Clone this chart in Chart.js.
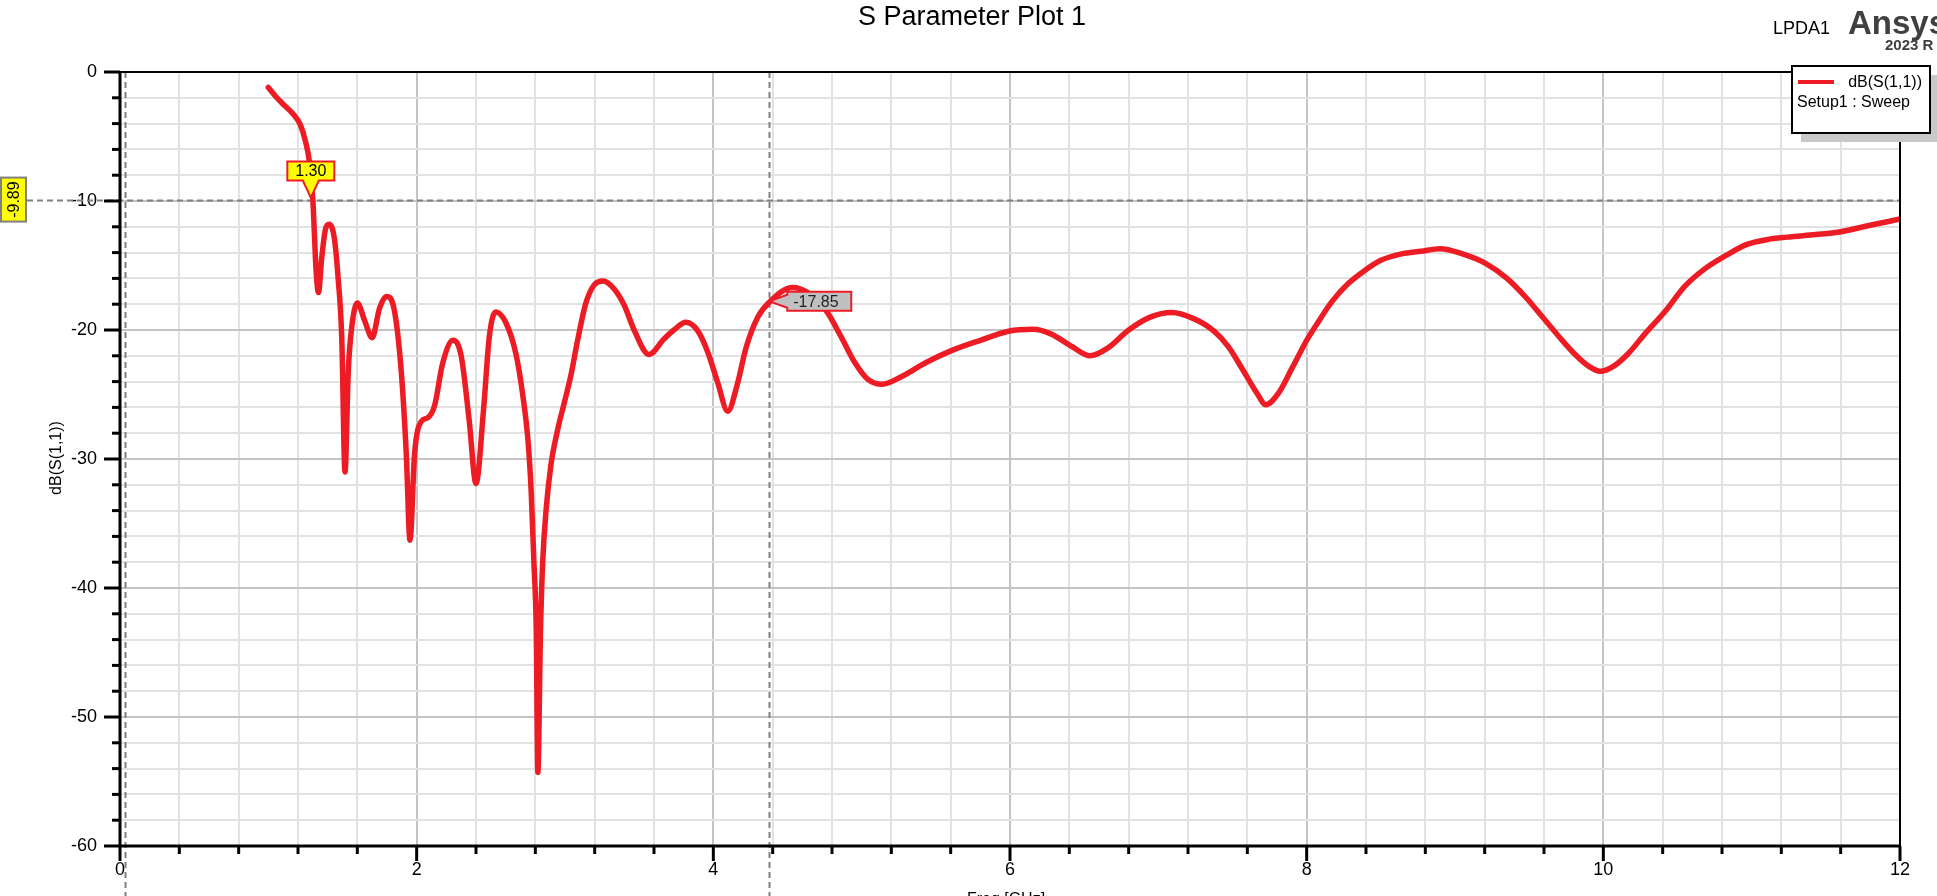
<!DOCTYPE html>
<html>
<head>
<meta charset="utf-8">
<script src="https://cdn.jsdelivr.net/npm/chart.js@4.4.0/dist/chart.umd.min.js"></script>
<style>
  html, body { margin: 0; padding: 0; background: #ffffff; }
  #wrap { width: 1937px; height: 896px; position: relative; overflow: hidden; }
</style>
</head>
<body>
<div id="wrap"><canvas id="c" width="1937" height="896"></canvas></div>
<script>
// ---------- data ----------
const freqGHz = [
  1.00, 1.05, 1.10, 1.17, 1.216, 1.25, 1.276, 1.30, 1.31, 1.322, 1.338, 1.36, 1.385, 1.41, 1.445, 1.47,
  1.495, 1.517, 1.539, 1.562, 1.60, 1.65, 1.70, 1.75, 1.796, 1.85, 1.896, 1.93, 1.955, 1.986, 2.03,
  2.075, 2.12, 2.175, 2.245, 2.30, 2.354, 2.40, 2.452, 2.49, 2.533, 2.60, 2.67, 2.716, 2.75, 2.772,
  2.79, 2.806, 2.817, 2.835, 2.85, 2.873, 2.906, 2.951, 2.996, 3.04, 3.085, 3.141, 3.197, 3.258,
  3.33, 3.40, 3.466, 3.566, 3.667, 3.734, 3.815, 3.894, 3.962, 4.03, 4.097, 4.164, 4.22, 4.30,
  4.377, 4.535, 4.636, 4.766, 4.86, 4.958, 5.04, 5.138, 5.27, 5.437, 5.605, 5.80, 5.99, 6.156,
  6.275, 6.42, 6.539, 6.659, 6.80, 6.946, 7.09, 7.234, 7.377, 7.473, 7.57, 7.665, 7.725, 7.81,
  7.904, 8.00, 8.06, 8.17, 8.28, 8.39, 8.50, 8.64, 8.77, 8.90, 9.05, 9.20, 9.35, 9.48, 9.59,
  9.70, 9.81, 9.90, 9.98, 10.07, 10.17, 10.28, 10.42, 10.55, 10.69, 10.83, 10.96, 11.10, 11.24,
  11.43, 11.59, 11.79, 12.00
];
const s11dB = [
  -1.2, -1.9, -2.5, -3.3, -4.1, -5.35, -6.9, -9.89, -12.4, -15.4, -17.1, -14.4, -12.2, -11.8, -12.9, -15.9,
  -20.6, -31.0, -23.2, -19.8, -17.9, -19.3, -20.6, -18.3, -17.4, -18.5, -23.2, -29.6, -36.3, -29.6, -27.1,
  -26.8, -25.9, -22.6, -20.8, -22.0, -27.0, -31.9, -26.0, -20.5, -18.6, -19.4, -21.9, -25.1, -28.5, -32.5,
  -37.9, -43.2, -54.3, -43.2, -37.9, -33.9, -30.4, -27.7, -25.6, -23.5, -20.8, -17.9, -16.5, -16.2,
  -16.8, -18.1, -20.0, -21.9, -20.7, -20.0, -19.4, -20.05, -21.7, -24.1, -26.3, -24.1, -21.4, -19.0,
  -17.85, -16.7, -17.1, -18.6, -20.5, -22.6, -23.8, -24.2, -23.6, -22.5, -21.6, -20.8, -20.1, -19.95,
  -20.3, -21.3, -22.0, -21.4, -20.0, -19.0, -18.65, -19.1, -20.1, -21.3, -23.1, -24.9, -25.8, -24.9,
  -22.9, -20.8, -19.7, -17.8, -16.4, -15.4, -14.6, -14.1, -13.9, -13.7, -14.1, -14.8, -16.0, -17.5, -19.0,
  -20.5, -21.9, -22.8, -23.2, -22.8, -21.8, -20.3, -18.5, -16.6, -15.2, -14.2, -13.4, -13.0, -12.8,
  -12.6, -12.4, -11.9, -11.4
];
const xMajorTicks = [0, 2, 4, 6, 8, 10, 12];
const yMajorTicks = [0, -10, -20, -30, -40, -50, -60];
const seriesName = 'dB(S(1,1))';
const seriesSetup = 'Setup1 : Sweep';
// markers
const markerXFreq = [1.30];
const markerXdB = [-9.89];
const markerXText = ['1.30'];
const markerYText = ['-9.89'];
const cursorFreq = [0.035, 4.377];
const markerPFreq = [4.377];
const markerPdB = [-17.85];
const markerPText = ['-17.85'];

const FONT = "'Liberation Sans', Arial, Helvetica, sans-serif";
const RED = 'rgb(237,28,36)';

function isMult(v, m) { return Math.abs(v / m - Math.round(v / m)) < 1e-6; }
function isMajorX(v) { return xMajorTicks.some(t => Math.abs(t - v) < 1e-6); }
function isMajorY(v) { return yMajorTicks.some(t => Math.abs(t - v) < 1e-6); }

const dashPlugin = {
  id: 'dashLines',
  beforeDatasetsDraw(chart) {
    const ctx = chart.ctx, xs = chart.scales.x, ys = chart.scales.y, ca = chart.chartArea;
    ctx.save();
    ctx.strokeStyle = '#808080';
    ctx.lineWidth = 2;
    ctx.setLineDash([6, 4]);
    cursorFreq.forEach(f => {
      const x = Math.round(xs.getPixelForValue(f)) + 0.5;
      ctx.beginPath(); ctx.moveTo(x, ca.top); ctx.lineTo(x, chart.height); ctx.stroke();
    });
    markerXdB.forEach(v => {
      const y = Math.round(ys.getPixelForValue(v)) + 0.5;
      ctx.beginPath(); ctx.moveTo(27, y); ctx.lineTo(ca.right, y); ctx.stroke();
    });
    ctx.restore();
  }
};

const decoPlugin = {
  id: 'deco',
  afterDraw(chart) {
    const ctx = chart.ctx, xs = chart.scales.x, ys = chart.scales.y, ca = chart.chartArea;
    ctx.save();
    // axis frame
    ctx.strokeStyle = '#000';
    ctx.setLineDash([]);
    ctx.lineWidth = 2;
    ctx.beginPath(); ctx.moveTo(ca.left, ca.top); ctx.lineTo(ca.right, ca.top); ctx.stroke();
    ctx.beginPath(); ctx.moveTo(ca.right, ca.top); ctx.lineTo(ca.right, ca.bottom); ctx.stroke();
    ctx.lineWidth = 3;
    ctx.beginPath(); ctx.moveTo(ca.left, ca.top - 1); ctx.lineTo(ca.left, ca.bottom); ctx.stroke();
    ctx.beginPath(); ctx.moveTo(ca.left, ca.bottom); ctx.lineTo(ca.right + 1, ca.bottom); ctx.stroke();
    // y tick marks
    ctx.lineWidth = 3;
    for (let v = -60; v <= 0; v += 2) {
      const y = ys.getPixelForValue(v);
      const len = isMajorY(v) ? 16 : 8;
      ctx.beginPath(); ctx.moveTo(ca.left - len, y); ctx.lineTo(ca.left, y); ctx.stroke();
    }
    // x tick marks
    xs.ticks.forEach(t => {
      const x = xs.getPixelForValue(t.value);
      const len = isMajorX(t.value) ? 15 : 8;
      ctx.beginPath(); ctx.moveTo(x, ca.bottom); ctx.lineTo(x, ca.bottom + len); ctx.stroke();
    });

    // title and header texts
    ctx.fillStyle = '#000';
    ctx.textAlign = 'center'; ctx.textBaseline = 'middle';
    ctx.font = '27px ' + FONT;
    ctx.fillText('S Parameter Plot 1', 972, 18);
    ctx.textAlign = 'left';
    ctx.font = '18px ' + FONT;
    ctx.fillText('LPDA1', 1773, 29);
    ctx.fillStyle = '#404040';
    ctx.textBaseline = 'alphabetic';
    ctx.font = 'bold 33px ' + FONT;
    ctx.fillText('Ansys', 1848, 34);
    ctx.font = 'bold 15px ' + FONT;
    ctx.fillText('2023 R', 1885, 50);

    // axis titles
    ctx.fillStyle = '#000';
    ctx.font = '16px ' + FONT;
    ctx.save();
    ctx.translate(57, 458);
    ctx.rotate(-Math.PI / 2);
    ctx.textAlign = 'center'; ctx.textBaseline = 'middle';
    ctx.fillText('dB(S(1,1))', 0, 0);
    ctx.restore();
    ctx.textAlign = 'center'; ctx.textBaseline = 'alphabetic';
    ctx.fillText('Freq [GHz]', 1006, 904);

    // legend box
    const lx = 1792, ly = 66, lw = 138, lh = 67;
    ctx.fillStyle = '#c8c8c8';
    ctx.fillRect(lx + 9, ly + 9, lw, lh);
    ctx.fillStyle = '#fff';
    ctx.fillRect(lx, ly, lw, lh);
    ctx.strokeStyle = '#000'; ctx.lineWidth = 2;
    ctx.strokeRect(lx, ly, lw, lh);
    ctx.strokeStyle = RED; ctx.lineWidth = 4;
    ctx.beginPath(); ctx.moveTo(1798, 82); ctx.lineTo(1834, 82); ctx.stroke();
    ctx.fillStyle = '#000';
    ctx.font = '16px ' + FONT;
    ctx.textBaseline = 'middle';
    ctx.textAlign = 'right';
    ctx.fillText(seriesName, 1922, 83);
    ctx.textAlign = 'left';
    ctx.fillText(seriesSetup, 1797, 103);

    // y-marker label (rotated, yellow)
    markerXdB.forEach((v, i) => {
      const y = ys.getPixelForValue(v);
      ctx.fillStyle = '#ffff00';
      ctx.fillRect(1, y - 22, 25, 44);
      ctx.strokeStyle = '#808080'; ctx.lineWidth = 2;
      ctx.strokeRect(1, y - 22, 25, 44);
      ctx.save();
      ctx.translate(14, y);
      ctx.rotate(-Math.PI / 2);
      ctx.fillStyle = '#000';
      ctx.font = '16px ' + FONT;
      ctx.textAlign = 'center'; ctx.textBaseline = 'middle';
      ctx.fillText(markerYText[i], 0, 1);
      ctx.restore();
    });

    // x-marker label with down pointer
    markerXFreq.forEach((f, i) => {
      const tx = xs.getPixelForValue(f) - 2;
      const ty = ys.getPixelForValue(markerXdB[i]) - 2;
      const bw = 47, bh = 19;
      const bb = ty - 17, bt = bb - bh, bl = tx - bw / 2, br = tx + bw / 2;
      ctx.beginPath();
      ctx.moveTo(bl, bt); ctx.lineTo(br, bt); ctx.lineTo(br, bb);
      ctx.lineTo(tx + 8, bb); ctx.lineTo(tx, ty); ctx.lineTo(tx - 8, bb);
      ctx.lineTo(bl, bb); ctx.closePath();
      ctx.fillStyle = '#ffff00'; ctx.fill();
      ctx.strokeStyle = RED; ctx.lineWidth = 2; ctx.stroke();
      ctx.fillStyle = '#000';
      ctx.font = '16px ' + FONT;
      ctx.textAlign = 'center'; ctx.textBaseline = 'middle';
      ctx.fillText(markerXText[i], tx, (bt + bb) / 2 + 1);
    });

    // point marker label with left pointer
    markerPFreq.forEach((f, i) => {
      const tx = xs.getPixelForValue(f);
      const ty = ys.getPixelForValue(markerPdB[i]) - 1;
      const bl = tx + 18, bw = 64, bh = 19;
      const bt = ty - bh / 2, bb = ty + bh / 2, br = bl + bw;
      ctx.beginPath();
      ctx.moveTo(bl, bt); ctx.lineTo(br, bt); ctx.lineTo(br, bb); ctx.lineTo(bl, bb);
      ctx.lineTo(bl, bb - 3); ctx.lineTo(tx, ty); ctx.lineTo(bl, bt + 3);
      ctx.closePath();
      ctx.fillStyle = '#c0c0c0'; ctx.fill();
      ctx.strokeStyle = RED; ctx.lineWidth = 2; ctx.stroke();
      ctx.fillStyle = '#222';
      ctx.font = '16px ' + FONT;
      ctx.textAlign = 'left'; ctx.textBaseline = 'middle';
      ctx.fillText(markerPText[i], bl + 6, ty + 1);
    });
    ctx.restore();
  }
};

const gridColor = (major) => major ? '#c4c4c4' : '#e2e2e2';

new Chart(document.getElementById('c'), {
  type: 'scatter',
  data: {
    datasets: [{
      label: seriesName,
      data: freqGHz.map((f, i) => ({ x: f, y: s11dB[i] })),
      showLine: true,
      borderColor: RED,
      backgroundColor: RED,
      borderWidth: 5.5,
      pointRadius: 0,
      cubicInterpolationMode: 'monotone',
      borderJoinStyle: 'round',
      borderCapStyle: 'round'
    }]
  },
  options: {
    responsive: false,
    animation: false,
    devicePixelRatio: 1,
    layout: { padding: { top: 72, right: 37, left: 0, bottom: 0 } },
    plugins: {
      legend: { display: false },
      tooltip: { enabled: false },
      title: { display: false }
    },
    scales: {
      x: {
        type: 'linear', min: 0, max: 12,
        afterFit(s) { s.height = 50; },
        border: { display: false },
        grid: {
          drawTicks: false, lineWidth: 2,
          color: (c) => gridColor(isMult(c.tick.value, 2))
        },
        ticks: {
          stepSize: 0.4, autoSkip: false, maxRotation: 0, padding: 13,
          color: '#000', font: { family: FONT, size: 18 },
          callback: (v) => isMajorX(v) ? String(Math.round(v)) : ''
        }
      },
      y: {
        min: -60, max: 0,
        afterFit(s) { s.width = 120; },
        border: { display: false },
        grid: {
          drawTicks: false, lineWidth: 2,
          color: (c) => gridColor(isMult(c.tick.value, 10))
        },
        ticks: {
          stepSize: 2, autoSkip: false, padding: 23,
          color: '#000', font: { family: FONT, size: 18 },
          callback: (v) => isMajorY(v) ? String(v) : ''
        }
      }
    }
  },
  plugins: [dashPlugin, decoPlugin]
});
</script>
</body>
</html>
